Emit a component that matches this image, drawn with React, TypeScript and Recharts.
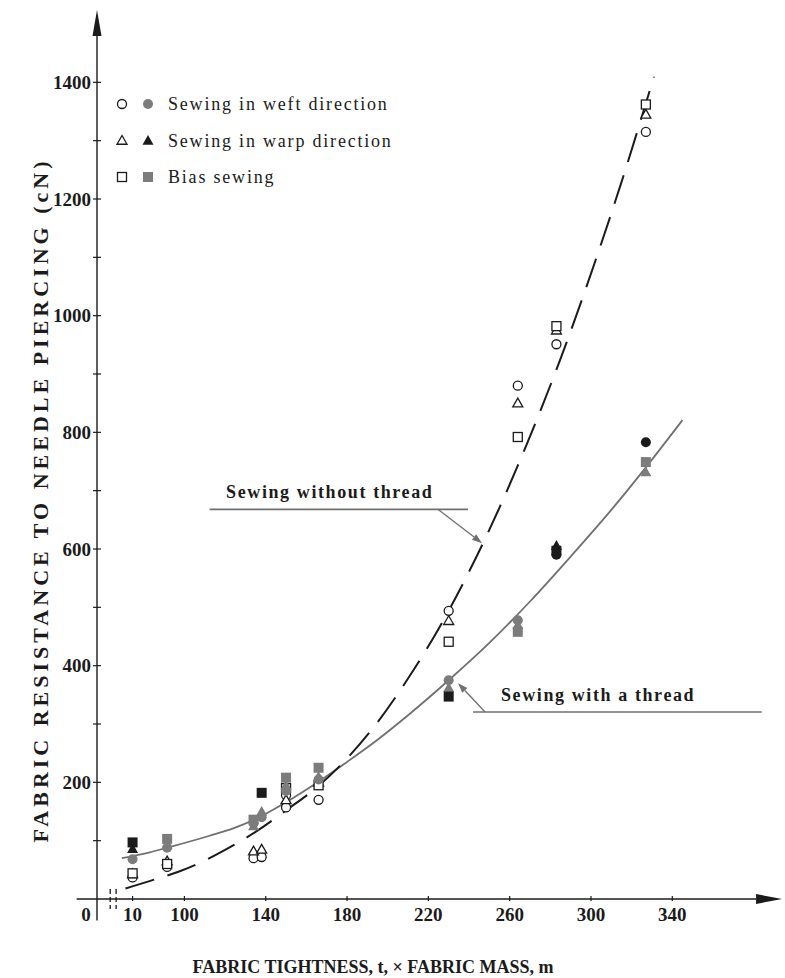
import React from 'react';
import {
  ComposedChart,
  Line,
  Scatter,
  XAxis,
  YAxis,
  ReferenceLine,
  ReferenceDot,
  Legend,
} from 'recharts';

// the x axis is broken: 0..10 and 10..100 are squeezed, linear from 100 on
const breakReal = [0, 10, 100];
const breakAxis = [57, 74.5, 100];

const toAxis = (v: number) => {
  if (v >= breakReal[2]) return v;
  const i = v >= breakReal[1] ? 1 : 0;
  const t = (v - breakReal[i]) / (breakReal[i + 1] - breakReal[i]);
  return breakAxis[i] + t * (breakAxis[i + 1] - breakAxis[i]);
};

const xTicks = [0, 10, 100, 140, 180, 220, 260, 300, 340];
const yTicks = [100, 200, 300, 400, 500, 600, 700, 800, 900, 1000, 1100, 1200, 1300, 1400];

// [fabric tightness x mass, resistance cN]
const weftOpen = [[10, 37], [70, 55], [134, 70], [138, 72], [150, 157], [150, 178], [166, 170], [230, 494], [264, 880], [283, 951], [327, 1315]];
const weftFilled = [[10, 68], [70, 88], [134, 130], [138, 140], [150, 185], [166, 205], [230, 375], [264, 478], [283, 590], [327, 783]];
const warpOpen = [[10, 43], [70, 65], [134, 82], [138, 85], [150, 170], [166, 200], [230, 477], [264, 850], [283, 975], [327, 1345]];
const warpFilled = [[10, 86], [70, 93], [134, 125], [138, 150], [150, 195], [166, 210], [230, 362], [264, 470], [283, 606], [327, 732]];
const biasOpen = [[10, 44], [70, 60], [150, 190], [166, 195], [230, 441], [264, 792], [283, 982], [327, 1362]];
const biasFilled = [[10, 97], [70, 103], [134, 136], [138, 182], [150, 208], [166, 225], [230, 347], [264, 458], [283, 597], [327, 749]];

// fitted curves as drawn
const withThread = [[7, 70], [40, 80], [70, 88], [100, 96], [112, 108], [124, 121], [136, 139], [150, 166], [165, 199], [180, 235], [195, 273], [210, 315], [230, 375], [250, 439], [270, 510], [290, 587], [310, 667], [327, 740], [345, 821]];
const withoutThread = [[8, 18], [50, 34], [93, 48], [110, 66], [122, 88], [135, 115], [150, 152], [165, 191], [180, 241], [195, 303], [210, 378], [225, 463], [240, 561], [255, 671], [270, 793], [285, 926], [300, 1072], [315, 1229], [331, 1410]];

// filled markers printed darker than the rest (by x)
const darkWeft = [283, 327];
const darkWarp = [10, 283];
const darkBias = [10, 138, 230, 283];

const INK = '#1b1b1b';
const GREY = '#7c7c7c';
const LINE_GREY = '#707070';
const SERIF = "'Liberation Serif', 'Times New Roman', serif";

const pts = (arr: number[][]) => arr.map(([real, y]) => ({ x: toAxis(real), y, real }));

const triPoints = (cx: number, cy: number, s: number) =>
  `${cx},${cy - s} ${cx + s},${cy + s * 0.75} ${cx - s},${cy + s * 0.75}`;

const openCircle = (p: any) => <circle cx={p.cx} cy={p.cy} r={4.5} fill="#fff" stroke={INK} strokeWidth={1.3} />;
const openTriangle = (p: any) => <polygon points={triPoints(p.cx, p.cy, 5)} fill="#fff" stroke={INK} strokeWidth={1.3} />;
const openSquare = (p: any) => <rect x={p.cx - 4.5} y={p.cy - 4.5} width={9} height={9} fill="#fff" stroke={INK} strokeWidth={1.3} />;

const tone = (dark: number[], p: any) => (p.payload && dark.includes(p.payload.real) ? INK : GREY);
const filledCircle = (p: any) => <circle cx={p.cx} cy={p.cy} r={5} fill={tone(darkWeft, p)} />;
const filledTriangle = (p: any) => <polygon points={triPoints(p.cx, p.cy, 5.5)} fill={tone(darkWarp, p)} />;
const filledSquare = (p: any) => <rect x={p.cx - 5} y={p.cy - 5} width={10} height={10} fill={tone(darkBias, p)} />;

const arrowLine = (len: number, half: number, color: string, width: number) => (p: any) => {
  const { x1, y1, x2, y2 } = p;
  const a = Math.atan2(y2 - y1, x2 - x1);
  const bx = x2 - len * Math.cos(a);
  const by = y2 - len * Math.sin(a);
  const nx = -Math.sin(a) * half;
  const ny = Math.cos(a) * half;
  return (
    <g>
      <line x1={x1} y1={y1} x2={bx} y2={by} stroke={color} strokeWidth={width} />
      <polygon points={`${x2},${y2} ${bx + nx},${by + ny} ${bx - nx},${by - ny}`} fill={color} />
    </g>
  );
};

const textAt = (value: string) => (p: any) => (
  <text x={p.cx} y={p.cy} textAnchor="middle" dominantBaseline="central" fontFamily={SERIF}
    fontWeight={700} fontSize={18} letterSpacing={1.6} fill={INK}>{value}</text>
);

const XTick = (p: any) => {
  const idx = xTicks.findIndex((t) => Math.abs(toAxis(t) - p.payload.value) < 0.01);
  const label = idx >= 0 ? String(xTicks[idx]) : '';
  const axisY = p.y - 8;
  return (
    <g>
      {label !== '0' && <line x1={p.x} x2={p.x} y1={axisY - 3} y2={axisY + 2} stroke={INK} strokeWidth={1.2} />}
      <text x={label === '0' ? p.x - 11 : p.x} y={p.y} dy="0.72em" textAnchor="middle" fontFamily={SERIF}
        fontWeight={700} fontSize={19} fill={INK}>{label}</text>
    </g>
  );
};

const YTick = (p: any) => {
  const v = p.payload.value;
  const axisX = p.x + 6;
  return (
    <g>
      <line x1={axisX - 4} x2={axisX + 4} y1={p.y} y2={p.y} stroke={INK} strokeWidth={1.2} />
      {v % 200 === 0 && (
        <text x={p.x} y={p.y} dy="0.35em" textAnchor="end" fontFamily={SERIF} fontWeight={700}
          fontSize={19} fill={INK}>{v}</text>
      )}
    </g>
  );
};

const XTitle = ({ viewBox }: any) => {
  const vb = viewBox || { x: 97, y: 899 };
  return (
    <text x={vb.x + 276} y={vb.y + 74} textAnchor="middle" fontFamily={SERIF} fontWeight={700}
      fontSize={18} fill={INK}>FABRIC TIGHTNESS, t, × FABRIC MASS, m</text>
  );
};

const YTitle = ({ viewBox }: any) => {
  const vb = viewBox || { x: 17, y: 10, height: 889 };
  const cx = vb.x + 23;
  const cy = vb.y + 490;
  return (
    <text transform={`translate(${cx},${cy}) rotate(-90)`} textAnchor="middle" dominantBaseline="central"
      fontFamily={SERIF} fontWeight={700} fontSize={22} letterSpacing={4} fill={INK}>
      FABRIC RESISTANCE TO NEEDLE PIERCING (cN)
    </text>
  );
};

const legendRows = [
  { label: 'Sewing in weft direction', open: openCircle, filled: (p: any) => <circle cx={p.cx} cy={p.cy} r={5} fill={GREY} /> },
  { label: 'Sewing in warp direction', open: openTriangle, filled: (p: any) => <polygon points={triPoints(p.cx, p.cy, 5.5)} fill={INK} /> },
  { label: 'Bias sewing', open: openSquare, filled: (p: any) => <rect x={p.cx - 5} y={p.cy - 5} width={10} height={10} fill={GREY} /> },
];

const LegendBox = () => (
  <svg width={320} height={110}>
    {legendRows.map((r, i) => {
      const cy = 14 + i * 36.5;
      return (
        <g key={r.label}>
          {r.open({ cx: 10, cy })}
          {r.filled({ cx: 36, cy })}
          <text x={56} y={cy} dominantBaseline="central" fontFamily={SERIF} fontSize={18}
            letterSpacing={1.8} fill={INK}>{r.label}</text>
        </g>
      );
    })}
  </svg>
);

export default function App() {
  return (
    <div style={{ position: 'absolute', left: 0, top: 0, width: 785, height: 978, background: '#fff' }}>
      <ComposedChart width={785} height={978} margin={{ top: 10, right: 7, bottom: 19, left: 17 }}>
        <XAxis type="number" dataKey="x" domain={[57, 392]} allowDataOverflow ticks={xTicks.map(toAxis)}
          interval={0} tick={XTick} tickSize={0} tickMargin={8} axisLine={false} tickLine={false}
          height={60} label={XTitle} />
        <YAxis type="number" dataKey="y" domain={[0, 1524]} allowDataOverflow ticks={yTicks} interval={0}
          tick={YTick} tickSize={0} tickMargin={6} axisLine={false} tickLine={false} width={80}
          label={YTitle} />
        <Legend layout="vertical" align="center" verticalAlign="middle" content={LegendBox}
          wrapperStyle={{ position: 'absolute', left: 112, top: 90, width: 320, height: 110 }} />

        {/* axes with arrow heads */}
        <ReferenceLine segment={[{ x: 47, y: 0 }, { x: 394, y: 0 }]} ifOverflow="visible"
          shape={arrowLine(26, 5, INK, 1.4)} />
        <ReferenceLine segment={[{ x: 57, y: -37 }, { x: 57, y: 1524 }]} ifOverflow="visible"
          shape={arrowLine(26, 4.5, INK, 1.4)} />
        {/* axis break marks */}
        <ReferenceLine segment={[{ x: 63.5, y: 17 }, { x: 63.5, y: -17 }]} ifOverflow="visible"
          stroke={INK} strokeWidth={1.3} strokeDasharray="5 3" />
        <ReferenceLine segment={[{ x: 66.4, y: 17 }, { x: 66.4, y: -17 }]} ifOverflow="visible"
          stroke={INK} strokeWidth={1.3} strokeDasharray="5 3" />

        <Line data={pts(withThread)} dataKey="y" type="monotone" stroke={LINE_GREY} strokeWidth={1.8}
          dot={false} activeDot={false} isAnimationActive={false} />
        <Line data={pts(withoutThread)} dataKey="y" type="monotone" stroke={INK} strokeWidth={2}
          strokeDasharray="30 14" dot={false} activeDot={false} isAnimationActive={false} />

        <Scatter data={pts(weftOpen)} dataKey="y" shape={openCircle} isAnimationActive={false} />
        <Scatter data={pts(warpOpen)} dataKey="y" shape={openTriangle} isAnimationActive={false} />
        <Scatter data={pts(biasOpen)} dataKey="y" shape={openSquare} isAnimationActive={false} />
        <Scatter data={pts(weftFilled)} dataKey="y" shape={filledCircle} isAnimationActive={false} />
        <Scatter data={pts(warpFilled)} dataKey="y" shape={filledTriangle} isAnimationActive={false} />
        <Scatter data={pts(biasFilled)} dataKey="y" shape={filledSquare} isAnimationActive={false} />

        {/* annotations */}
        <ReferenceLine segment={[{ x: 112.4, y: 668 }, { x: 239.5, y: 668 }]} ifOverflow="visible"
          stroke={LINE_GREY} strokeWidth={1.6} />
        <ReferenceLine segment={[{ x: 224.7, y: 668 }, { x: 246.4, y: 610 }]} ifOverflow="visible"
          shape={arrowLine(10, 3.5, LINE_GREY, 1.3)} />
        <ReferenceDot x={171.5} y={697} r={0} ifOverflow="visible" shape={textAt('Sewing without thread')} />

        <ReferenceLine segment={[{ x: 242, y: 320.5 }, { x: 384, y: 320.5 }]} ifOverflow="visible"
          stroke={LINE_GREY} strokeWidth={1.6} />
        <ReferenceLine segment={[{ x: 247.9, y: 320.5 }, { x: 234.6, y: 370 }]} ifOverflow="visible"
          shape={arrowLine(10, 3.5, LINE_GREY, 1.3)} />
        <ReferenceDot x={303.5} y={350} r={0} ifOverflow="visible" shape={textAt('Sewing with a thread')} />
      </ComposedChart>
    </div>
  );
}
